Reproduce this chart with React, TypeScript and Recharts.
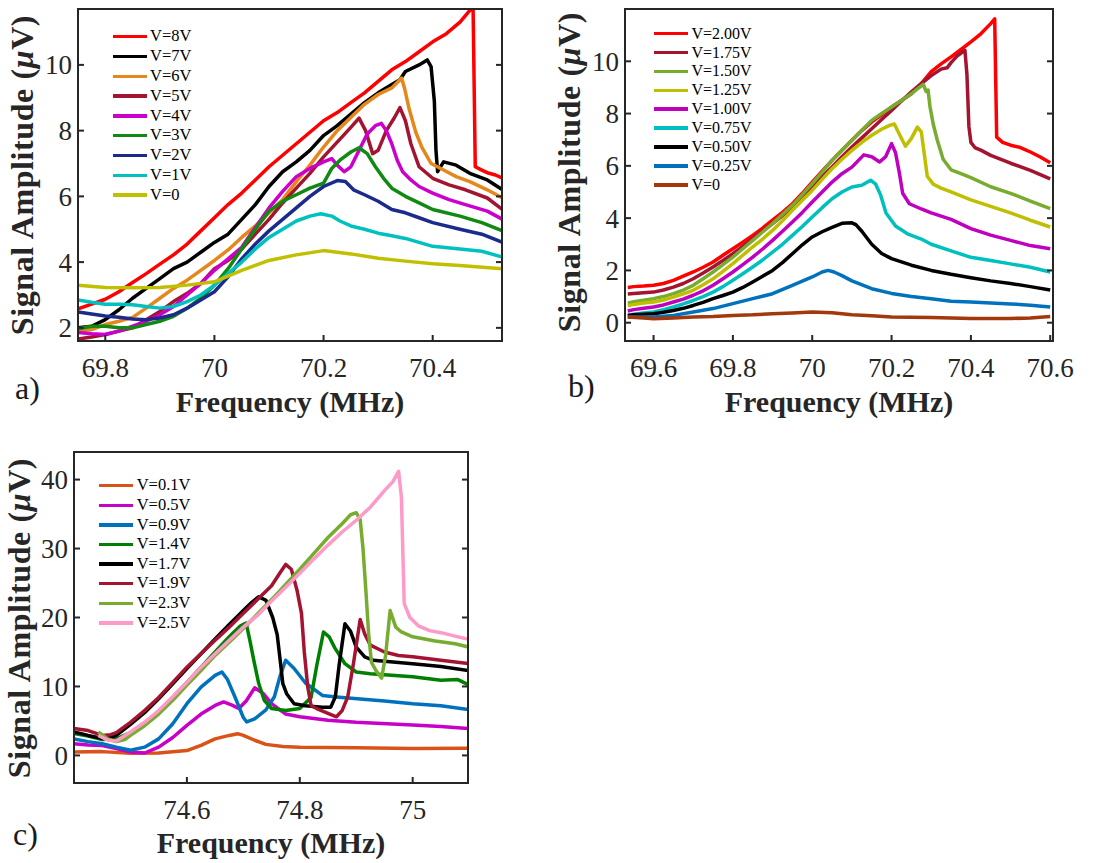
import { LineChart, Line, XAxis, YAxis, Legend, ReferenceArea } from "recharts";

// ──────────────────────────────────────────────
// Data (frequency MHz, amplitude µV)
// ──────────────────────────────────────────────

type Pt = [number, number];

// ── panel a ──
const a8V: Pt[] = [[69.75,2.58],[69.775,2.72],[69.8,2.87],[69.825,3.1],[69.85,3.38],[69.875,3.65],[69.9,3.94],[69.925,4.22],[69.95,4.55],[69.975,4.95],[70,5.35],[70.025,5.75],[70.05,6.1],[70.075,6.5],[70.1,6.9],[70.125,7.25],[70.15,7.6],[70.175,7.95],[70.2,8.3],[70.225,8.55],[70.25,8.85],[70.275,9.15],[70.3,9.5],[70.325,9.85],[70.35,10.1],[70.375,10.4],[70.4,10.7],[70.425,10.95],[70.45,11.3],[70.465,11.6],[70.474,11.75],[70.478,6.9],[70.49,6.8],[70.5,6.72],[70.515,6.65],[70.528,6.55]];
const a7V: Pt[] = [[69.75,2.0],[69.775,2.05],[69.8,2.25],[69.825,2.55],[69.85,2.9],[69.875,3.2],[69.9,3.5],[69.925,3.8],[69.95,4.0],[69.975,4.3],[70,4.6],[70.025,4.85],[70.05,5.3],[70.075,5.75],[70.1,6.3],[70.125,6.75],[70.15,7.05],[70.175,7.4],[70.2,7.85],[70.225,8.15],[70.25,8.5],[70.275,8.85],[70.3,9.15],[70.325,9.4],[70.34,9.55],[70.35,9.8],[70.375,10.0],[70.39,10.15],[70.397,9.95],[70.403,8.9],[70.406,7.4],[70.409,6.75],[70.42,7.05],[70.443,6.95],[70.468,6.7],[70.5,6.5],[70.528,6.2]];
const a6V: Pt[] = [[69.75,1.9],[69.775,1.95],[69.8,2.1],[69.825,2.2],[69.85,2.32],[69.875,2.6],[69.9,2.9],[69.925,3.2],[69.95,3.45],[69.975,3.75],[70,4.05],[70.025,4.37],[70.05,4.75],[70.075,5.1],[70.1,5.5],[70.125,5.9],[70.15,6.45],[70.175,6.95],[70.2,7.5],[70.225,8.0],[70.25,8.4],[70.275,8.8],[70.3,9.1],[70.325,9.3],[70.343,9.6],[70.349,9.25],[70.357,8.65],[70.369,7.95],[70.38,7.5],[70.397,7.0],[70.42,6.8],[70.443,6.6],[70.468,6.45],[70.5,6.2],[70.528,5.95]];
const a5V: Pt[] = [[69.75,1.66],[69.775,1.72],[69.8,1.8],[69.825,1.9],[69.85,2.0],[69.875,2.25],[69.9,2.5],[69.925,2.8],[69.95,3.05],[69.975,3.35],[70,3.8],[70.025,4.05],[70.05,4.4],[70.075,4.85],[70.1,5.3],[70.125,5.8],[70.15,6.25],[70.175,6.7],[70.2,7.2],[70.225,7.65],[70.25,8.1],[70.265,8.38],[70.277,8.0],[70.29,7.3],[70.3,7.4],[70.315,8.0],[70.33,8.4],[70.34,8.7],[70.35,8.3],[70.36,7.6],[70.375,6.9],[70.4,6.55],[70.43,6.35],[70.46,6.2],[70.5,5.95],[70.528,5.6]];
const a4V: Pt[] = [[69.75,1.86],[69.775,1.82],[69.8,1.8],[69.825,1.9],[69.85,2.05],[69.875,2.2],[69.9,2.4],[69.925,2.65],[69.95,3.0],[69.975,3.35],[70,3.75],[70.025,4.1],[70.05,4.45],[70.075,5.05],[70.1,5.65],[70.125,6.15],[70.15,6.6],[70.175,6.85],[70.2,7.05],[70.215,7.15],[70.225,6.95],[70.238,6.75],[70.25,6.9],[70.265,7.4],[70.28,7.9],[70.295,8.15],[70.306,8.22],[70.315,8.0],[70.325,7.6],[70.335,7.1],[70.345,6.75],[70.36,6.5],[70.375,6.3],[70.4,6.1],[70.43,5.9],[70.46,5.75],[70.5,5.55],[70.528,5.3]];
const a3V: Pt[] = [[69.75,1.97],[69.775,2.05],[69.8,2.05],[69.825,2.0],[69.85,2.0],[69.875,2.1],[69.9,2.2],[69.925,2.35],[69.95,2.6],[69.975,2.9],[70,3.3],[70.025,3.8],[70.05,4.4],[70.075,5.0],[70.1,5.55],[70.125,5.85],[70.15,6.05],[70.175,6.25],[70.2,6.4],[70.215,6.85],[70.23,7.1],[70.25,7.35],[70.265,7.48],[70.28,7.3],[70.295,6.9],[70.31,6.55],[70.325,6.25],[70.35,6.0],[70.375,5.8],[70.4,5.6],[70.45,5.4],[70.49,5.2],[70.528,4.95]];
const a2V: Pt[] = [[69.75,2.48],[69.775,2.42],[69.8,2.36],[69.825,2.32],[69.85,2.27],[69.875,2.25],[69.9,2.3],[69.925,2.4],[69.95,2.6],[69.975,2.85],[70,3.1],[70.025,3.55],[70.05,4.1],[70.075,4.55],[70.1,4.95],[70.125,5.3],[70.15,5.65],[70.175,6.0],[70.2,6.3],[70.225,6.48],[70.24,6.45],[70.255,6.2],[70.275,6.05],[70.3,5.85],[70.325,5.6],[70.35,5.5],[70.375,5.35],[70.4,5.2],[70.45,5.0],[70.49,4.85],[70.528,4.6]];
const a1V: Pt[] = [[69.75,2.85],[69.775,2.78],[69.8,2.72],[69.825,2.72],[69.85,2.7],[69.875,2.65],[69.9,2.6],[69.925,2.65],[69.95,2.8],[69.975,3.0],[70,3.3],[70.025,3.65],[70.05,4.0],[70.075,4.4],[70.1,4.75],[70.125,5.0],[70.15,5.25],[70.175,5.4],[70.195,5.47],[70.215,5.4],[70.23,5.25],[70.25,5.1],[70.275,5.0],[70.3,4.88],[70.325,4.8],[70.35,4.72],[70.375,4.6],[70.4,4.48],[70.45,4.4],[70.49,4.33],[70.528,4.15]];
const a0V: Pt[] = [[69.75,3.3],[69.8,3.23],[69.85,3.22],[69.9,3.23],[69.95,3.3],[70,3.4],[70.05,3.75],[70.1,4.05],[70.15,4.22],[70.2,4.35],[70.25,4.25],[70.3,4.12],[70.35,4.03],[70.4,3.95],[70.45,3.9],[70.528,3.8]];

// ── panel b ──
const b200: Pt[] = [[69.535,1.35],[69.55,1.38],[69.575,1.4],[69.6,1.43],[69.625,1.5],[69.65,1.62],[69.675,1.78],[69.7,1.94],[69.725,2.12],[69.75,2.32],[69.775,2.58],[69.8,2.83],[69.825,3.08],[69.85,3.34],[69.875,3.62],[69.9,3.92],[69.925,4.22],[69.95,4.55],[69.975,4.95],[70,5.38],[70.025,5.8],[70.05,6.21],[70.075,6.6],[70.1,6.98],[70.125,7.35],[70.15,7.68],[70.175,7.95],[70.2,8.25],[70.225,8.5],[70.25,8.76],[70.275,9.15],[70.3,9.6],[70.325,9.9],[70.35,10.17],[70.375,10.45],[70.4,10.74],[70.425,11.05],[70.45,11.44],[70.46,11.62],[70.465,7.1],[70.48,6.9],[70.5,6.79],[70.525,6.7],[70.55,6.53],[70.575,6.34],[70.6,6.12]];
const b175: Pt[] = [[69.535,1.1],[69.55,1.12],[69.575,1.15],[69.6,1.17],[69.625,1.25],[69.65,1.36],[69.675,1.5],[69.7,1.68],[69.725,1.9],[69.75,2.13],[69.775,2.38],[69.8,2.64],[69.825,2.92],[69.85,3.21],[69.875,3.5],[69.9,3.79],[69.925,4.1],[69.95,4.43],[69.975,4.8],[70,5.19],[70.025,5.58],[70.05,5.96],[70.075,6.35],[70.1,6.72],[70.125,7.07],[70.15,7.42],[70.175,7.77],[70.2,8.12],[70.225,8.48],[70.25,8.83],[70.275,9.15],[70.3,9.45],[70.325,9.7],[70.34,9.75],[70.35,9.95],[70.365,10.2],[70.385,10.42],[70.39,9.5],[70.395,7.5],[70.4,6.9],[70.41,6.7],[70.425,6.6],[70.45,6.4],[70.5,6.1],[70.55,5.83],[70.6,5.5]];
const b150: Pt[] = [[69.535,0.75],[69.55,0.8],[69.575,0.86],[69.6,0.92],[69.625,1.0],[69.65,1.11],[69.675,1.25],[69.7,1.43],[69.725,1.68],[69.75,1.94],[69.775,2.22],[69.8,2.51],[69.825,2.83],[69.85,3.15],[69.875,3.47],[69.9,3.79],[69.925,4.14],[69.95,4.49],[69.975,4.9],[70,5.32],[70.025,5.76],[70.05,6.21],[70.075,6.6],[70.1,6.98],[70.125,7.36],[70.15,7.74],[70.175,8.0],[70.2,8.25],[70.225,8.5],[70.25,8.76],[70.27,9.0],[70.28,9.12],[70.287,8.85],[70.292,8.9],[70.297,8.25],[70.305,7.6],[70.315,7.0],[70.33,6.25],[70.35,5.85],[70.375,5.7],[70.4,5.55],[70.45,5.2],[70.5,4.95],[70.55,4.65],[70.6,4.36]];
const b125: Pt[] = [[69.535,0.65],[69.55,0.7],[69.575,0.75],[69.6,0.79],[69.625,0.87],[69.65,0.98],[69.675,1.1],[69.7,1.24],[69.725,1.45],[69.75,1.68],[69.775,1.96],[69.8,2.26],[69.825,2.58],[69.85,2.9],[69.875,3.2],[69.9,3.53],[69.925,3.9],[69.95,4.3],[69.975,4.68],[70,5.06],[70.025,5.48],[70.05,5.89],[70.075,6.25],[70.1,6.59],[70.125,6.9],[70.15,7.17],[70.175,7.4],[70.195,7.55],[70.207,7.6],[70.22,7.2],[70.235,6.75],[70.25,7.05],[70.265,7.48],[70.275,7.3],[70.283,6.4],[70.29,5.6],[70.305,5.3],[70.325,5.15],[70.35,5.0],[70.4,4.7],[70.45,4.45],[70.5,4.2],[70.55,3.92],[70.6,3.66]];
const b100: Pt[] = [[69.535,0.45],[69.55,0.5],[69.575,0.55],[69.6,0.6],[69.625,0.68],[69.65,0.79],[69.675,0.9],[69.7,1.05],[69.725,1.22],[69.75,1.43],[69.775,1.68],[69.8,1.94],[69.825,2.22],[69.85,2.51],[69.875,2.82],[69.9,3.15],[69.925,3.5],[69.95,3.85],[69.975,4.22],[70,4.62],[70.025,5.0],[70.05,5.38],[70.075,5.7],[70.1,5.95],[70.13,6.42],[70.15,6.35],[70.17,6.15],[70.185,6.35],[70.2,6.85],[70.21,6.5],[70.22,5.7],[70.228,4.95],[70.245,4.55],[70.275,4.35],[70.3,4.2],[70.35,3.95],[70.4,3.6],[70.45,3.35],[70.5,3.15],[70.55,2.95],[70.6,2.83]];
const b075: Pt[] = [[69.535,0.28],[69.55,0.32],[69.575,0.37],[69.6,0.41],[69.625,0.5],[69.65,0.6],[69.675,0.72],[69.7,0.85],[69.725,1.0],[69.75,1.17],[69.775,1.38],[69.8,1.62],[69.825,1.87],[69.85,2.13],[69.875,2.4],[69.9,2.7],[69.925,3.0],[69.95,3.34],[69.975,3.68],[70,4.04],[70.025,4.4],[70.05,4.74],[70.075,5.0],[70.1,5.19],[70.125,5.26],[70.147,5.45],[70.16,5.3],[70.172,4.9],[70.186,4.2],[70.21,3.7],[70.24,3.4],[70.275,3.2],[70.3,3.0],[70.35,2.75],[70.4,2.5],[70.45,2.38],[70.5,2.25],[70.55,2.12],[70.6,1.94]];
const b050: Pt[] = [[69.535,0.28],[69.55,0.3],[69.575,0.32],[69.6,0.34],[69.625,0.4],[69.65,0.47],[69.675,0.55],[69.7,0.66],[69.725,0.78],[69.75,0.92],[69.775,1.04],[69.8,1.17],[69.825,1.35],[69.85,1.56],[69.875,1.78],[69.9,2.0],[69.925,2.3],[69.95,2.64],[69.975,2.98],[70,3.28],[70.025,3.48],[70.05,3.65],[70.075,3.8],[70.1,3.82],[70.11,3.75],[70.125,3.5],[70.15,3.0],[70.175,2.65],[70.2,2.45],[70.25,2.2],[70.3,2.0],[70.35,1.85],[70.4,1.72],[70.45,1.6],[70.5,1.5],[70.55,1.38],[70.6,1.25]];
const b025: Pt[] = [[69.535,0.22],[69.6,0.22],[69.65,0.28],[69.7,0.41],[69.75,0.54],[69.8,0.73],[69.85,0.92],[69.9,1.11],[69.95,1.43],[70,1.75],[70.025,1.94],[70.04,2.0],[70.055,1.94],[70.075,1.8],[70.1,1.6],[70.15,1.3],[70.2,1.12],[70.25,1.0],[70.3,0.92],[70.35,0.82],[70.4,0.79],[70.45,0.75],[70.5,0.72],[70.55,0.67],[70.6,0.6]];
const b000: Pt[] = [[69.535,0.22],[69.575,0.18],[69.6,0.15],[69.65,0.18],[69.7,0.22],[69.75,0.24],[69.8,0.28],[69.85,0.3],[69.9,0.34],[69.95,0.37],[70,0.41],[70.05,0.38],[70.1,0.3],[70.15,0.27],[70.2,0.22],[70.3,0.2],[70.4,0.16],[70.5,0.16],[70.55,0.18],[70.6,0.24]];

// ── panel c ──
const c01: Pt[] = [[74.4,0.5],[74.45,0.55],[74.5,0.3],[74.55,0.35],[74.6,0.7],[74.625,1.45],[74.65,2.4],[74.675,2.9],[74.69,3.15],[74.7,2.9],[74.72,2.2],[74.74,1.6],[74.77,1.3],[74.8,1.2],[74.9,1.1],[75,1.0],[75.1,1.05]];
const c05: Pt[] = [[74.4,1.7],[74.425,1.5],[74.45,1.45],[74.475,1.0],[74.5,0.5],[74.525,0.35],[74.55,1.2],[74.575,2.6],[74.6,4.35],[74.625,6.0],[74.65,7.25],[74.665,7.75],[74.68,7.3],[74.692,6.8],[74.705,7.9],[74.72,9.8],[74.735,9.0],[74.75,7.5],[74.775,6.0],[74.8,5.6],[74.85,5.1],[74.9,4.8],[75,4.4],[75.05,4.2],[75.1,3.9]];
const c09: Pt[] = [[74.4,2.4],[74.425,2.0],[74.45,1.7],[74.475,1.2],[74.5,0.75],[74.525,1.2],[74.55,2.4],[74.575,4.6],[74.6,7.5],[74.625,9.9],[74.65,11.6],[74.662,12.1],[74.672,11.0],[74.685,8.5],[74.7,5.5],[74.706,4.85],[74.72,5.3],[74.74,6.6],[74.755,8.5],[74.765,11.5],[74.775,13.8],[74.79,12.6],[74.81,10.5],[74.84,8.7],[74.87,8.45],[74.95,7.9],[75,7.5],[75.05,7.2],[75.1,6.65]];
const c14: Pt[] = [[74.4,3.2],[74.425,2.8],[74.45,2.3],[74.475,2.4],[74.5,3.3],[74.525,4.6],[74.55,6.3],[74.575,8.4],[74.6,10.6],[74.625,12.8],[74.65,15.0],[74.675,17.2],[74.695,18.8],[74.705,19.2],[74.712,16.5],[74.718,14.0],[74.727,10.5],[74.737,8.0],[74.75,6.8],[74.775,6.5],[74.8,6.8],[74.82,8.4],[74.83,13.0],[74.842,17.9],[74.852,17.2],[74.862,15.6],[74.88,13.3],[74.9,12.1],[74.925,11.85],[75,11.4],[75.05,10.9],[75.08,11.0],[75.1,10.2]];
const c17: Pt[] = [[74.4,3.4],[74.425,2.9],[74.45,2.45],[74.465,2.6],[74.475,2.9],[74.5,4.5],[74.525,6.2],[74.55,8.2],[74.575,10.4],[74.6,12.6],[74.625,14.75],[74.65,16.9],[74.675,19.0],[74.7,21.0],[74.715,22.2],[74.727,23.0],[74.74,22.5],[74.752,20.0],[74.76,17.5],[74.765,14.0],[74.77,10.4],[74.777,8.9],[74.79,7.5],[74.81,7.2],[74.84,7.0],[74.855,7.0],[74.863,8.5],[74.87,13.3],[74.88,19.1],[74.89,18.0],[74.9,15.7],[74.915,14.3],[74.93,13.8],[75,13.3],[75.05,12.9],[75.1,12.3]];
const c19: Pt[] = [[74.4,3.9],[74.425,3.6],[74.45,2.9],[74.465,3.0],[74.475,3.3],[74.5,4.8],[74.525,6.5],[74.55,8.4],[74.575,10.6],[74.6,12.8],[74.625,14.75],[74.65,16.7],[74.675,18.6],[74.7,20.6],[74.725,22.6],[74.75,24.6],[74.765,26.5],[74.775,27.7],[74.785,27.0],[74.795,24.0],[74.803,20.6],[74.808,15.0],[74.814,10.0],[74.82,7.2],[74.83,6.8],[74.85,6.1],[74.865,5.6],[74.875,6.5],[74.885,8.5],[74.895,13.3],[74.907,19.7],[74.915,17.6],[74.925,16.0],[74.95,15.0],[74.975,14.5],[75,14.3],[75.05,13.8],[75.1,13.3]];
const c23: Pt[] = [[74.443,3.4],[74.46,2.4],[74.475,2.0],[74.49,2.3],[74.5,2.9],[74.525,4.3],[74.55,6.0],[74.575,8.0],[74.6,10.2],[74.625,12.3],[74.65,14.5],[74.675,16.4],[74.7,18.4],[74.725,20.5],[74.75,22.6],[74.775,24.8],[74.8,27.0],[74.825,29.3],[74.85,31.6],[74.875,33.6],[74.89,34.9],[74.9,35.2],[74.907,34.2],[74.912,30.0],[74.917,24.0],[74.922,17.6],[74.927,13.5],[74.935,12.3],[74.945,11.2],[74.952,14.5],[74.96,21.0],[74.97,18.6],[74.98,17.9],[75,17.2],[75.04,16.6],[75.075,16.2],[75.1,15.7]];
const c25: Pt[] = [[74.443,2.9],[74.46,2.2],[74.475,2.1],[74.5,3.4],[74.525,4.8],[74.55,6.5],[74.575,8.5],[74.6,10.6],[74.625,12.8],[74.65,14.75],[74.675,16.7],[74.7,18.6],[74.725,20.3],[74.75,22.4],[74.775,24.4],[74.8,26.4],[74.825,28.5],[74.85,30.5],[74.875,32.4],[74.9,34.1],[74.925,36.0],[74.95,38.4],[74.965,39.7],[74.975,41.2],[74.98,37.5],[74.985,22.0],[74.995,20.0],[75.01,18.8],[75.03,18.1],[75.05,17.8],[75.075,17.3],[75.1,16.8]];

// ── axes ──
const ticksAX = [69.8, 70, 70.2, 70.4];
const ticksAY = [2, 4, 6, 8, 10];
const ticksBX = [69.6, 69.8, 70, 70.2, 70.4, 70.6];
const ticksBY = [0, 2, 4, 6, 8, 10];
const ticksCX = [74.6, 74.8, 75];
const ticksCY = [0, 10, 20, 30, 40];

// ──────────────────────────────────────────────
// Styling
// ──────────────────────────────────────────────

const FONT = '"Liberation Serif", "Times New Roman", Times, serif';
const AXIS = "#262626";
const TICK_LEN = 6;
const TICK_FONT = 27;

type Series = { name: string; color: string; pts: Pt[] };

const seriesA: Series[] = [
  { name: "V=8V", color: "#ff0000", pts: a8V },
  { name: "V=7V", color: "#000000", pts: a7V },
  { name: "V=6V", color: "#e6871c", pts: a6V },
  { name: "V=5V", color: "#a2142f", pts: a5V },
  { name: "V=4V", color: "#cc00cc", pts: a4V },
  { name: "V=3V", color: "#108a10", pts: a3V },
  { name: "V=2V", color: "#1c2a8c", pts: a2V },
  { name: "V=1V", color: "#00c0c0", pts: a1V },
  { name: "V=0", color: "#c0c000", pts: a0V },
];

const seriesB: Series[] = [
  { name: "V=2.00V", color: "#ff0000", pts: b200 },
  { name: "V=1.75V", color: "#a2142f", pts: b175 },
  { name: "V=1.50V", color: "#77ac30", pts: b150 },
  { name: "V=1.25V", color: "#bfbf00", pts: b125 },
  { name: "V=1.00V", color: "#bf00bf", pts: b100 },
  { name: "V=0.75V", color: "#00bfbf", pts: b075 },
  { name: "V=0.50V", color: "#000000", pts: b050 },
  { name: "V=0.25V", color: "#0072bd", pts: b025 },
  { name: "V=0", color: "#a2380c", pts: b000 },
];

const seriesC: Series[] = [
  { name: "V=0.1V", color: "#d95319", pts: c01 },
  { name: "V=0.5V", color: "#c800c8", pts: c05 },
  { name: "V=0.9V", color: "#0072bd", pts: c09 },
  { name: "V=1.4V", color: "#008000", pts: c14 },
  { name: "V=1.7V", color: "#000000", pts: c17 },
  { name: "V=1.9V", color: "#a2142f", pts: c19 },
  { name: "V=2.3V", color: "#77ac30", pts: c23 },
  { name: "V=2.5V", color: "#ff99c8", pts: c25 },
];

const fmt = (v: number) => String(v);

// ── inward MATLAB-style ticks ──
function BottomTick({ x, y, payload }: any) {
  return (
    <g>
      <line x1={x} y1={y} x2={x} y2={y - TICK_LEN} stroke={AXIS} strokeWidth={2} />
      <text x={x} y={y + 36} textAnchor="middle" fontSize={TICK_FONT} fontFamily={FONT} fill={AXIS}>
        {fmt(payload.value)}
      </text>
    </g>
  );
}

function TopTick({ x, y }: any) {
  return <line x1={x} y1={y} x2={x} y2={y + TICK_LEN} stroke={AXIS} strokeWidth={2} />;
}

function LeftTick({ x, y, payload }: any) {
  return (
    <g>
      <line x1={x} y1={y} x2={x + TICK_LEN} y2={y} stroke={AXIS} strokeWidth={2} />
      <text x={x - 6} y={y + 9.5} textAnchor="end" fontSize={TICK_FONT} fontFamily={FONT} fill={AXIS}>
        {fmt(payload.value)}
      </text>
    </g>
  );
}

function RightTick({ x, y }: any) {
  return <line x1={x} y1={y} x2={x - TICK_LEN} y2={y} stroke={AXIS} strokeWidth={2} />;
}

type LegendSpec = {
  left: number;
  top: number;
  rowH: number;
  lineW: number;
  gap: number;
  fontSize: number;
};

function LegendBox({ items, spec }: { items: Series[]; spec: LegendSpec }) {
  return (
    <div style={{ fontFamily: FONT, fontSize: spec.fontSize, color: "#000" }}>
      {items.map((s) => (
        <div key={s.name} style={{ display: "flex", alignItems: "center", height: spec.rowH, whiteSpace: "nowrap" }}>
          <span style={{ display: "inline-block", width: spec.lineW, height: 3.5, background: s.color, marginRight: spec.gap }} />
          <span style={{ lineHeight: 1, fontFamily: FONT, fontSize: spec.fontSize }}>{s.name}</span>
        </div>
      ))}
    </div>
  );
}

type PanelProps = {
  left: number;
  top: number;
  width: number;
  height: number;
  margin: { top: number; right: number; bottom: number; left: number };
  xDomain: [number, number];
  yDomain: [number, number];
  xTicks: number[];
  yTicks: number[];
  series: Series[];
  legend: LegendSpec;
};

function Panel(p: PanelProps) {
  return (
    <div style={{ position: "absolute", left: p.left, top: p.top, width: p.width, height: p.height }}>
      <LineChart width={p.width} height={p.height} margin={p.margin}>
        <XAxis
          dataKey="x"
          type="number"
          domain={p.xDomain}
          ticks={p.xTicks}
          allowDataOverflow
          interval={0}
          height={60}
          tickSize={0}
          tickMargin={0}
          tickLine={false}
          axisLine={{ stroke: AXIS, strokeWidth: 2 }}
          tick={<BottomTick />}
        />
        <XAxis
          xAxisId="top"
          orientation="top"
          type="number"
          domain={p.xDomain}
          ticks={p.xTicks}
          allowDataOverflow
          interval={0}
          height={1}
          tickSize={0}
          tickMargin={0}
          tickLine={false}
          axisLine={{ stroke: AXIS, strokeWidth: 2 }}
          tick={<TopTick />}
        />
        <YAxis
          type="number"
          domain={p.yDomain}
          ticks={p.yTicks}
          allowDataOverflow
          interval={0}
          width={60}
          tickSize={0}
          tickMargin={0}
          tickLine={false}
          axisLine={{ stroke: AXIS, strokeWidth: 2 }}
          tick={<LeftTick />}
        />
        <YAxis
          yAxisId="right"
          orientation="right"
          type="number"
          domain={p.yDomain}
          ticks={p.yTicks}
          allowDataOverflow
          interval={0}
          width={1}
          tickSize={0}
          tickMargin={0}
          tickLine={false}
          axisLine={{ stroke: AXIS, strokeWidth: 2 }}
          tick={<RightTick />}
        />
        <ReferenceArea
          x1={p.xDomain[0]}
          x2={p.xDomain[1]}
          y1={p.yDomain[0]}
          y2={p.yDomain[1]}
          fill="none"
          stroke={AXIS}
          strokeWidth={2}
          ifOverflow="visible"
        />
        <Legend
          layout="vertical"
          align="center"
          verticalAlign="middle"
          wrapperStyle={{ left: p.legend.left, top: p.legend.top, width: "auto", fontSize: p.legend.fontSize }}
          content={() => <LegendBox items={p.series} spec={p.legend} />}
        />
        {p.series.map((s) => (
          <Line
            key={s.name}
            name={s.name}
            data={s.pts.map(([x, y]) => ({ x, y }))}
            dataKey="y"
            type="linear"
            stroke={s.color}
            strokeWidth={3.5}
            strokeLinejoin="round"
            dot={false}
            activeDot={false}
            isAnimationActive={false}
          />
        ))}
      </LineChart>
    </div>
  );
}

const xTitleStyle = { fontFamily: FONT, fontWeight: 700, fontSize: 30, fill: "#262626" } as const;
const yTitleStyle = { fontFamily: FONT, fontWeight: 700, fontSize: 32, fill: "#262626", letterSpacing: 0.6 } as const;
const letterStyle = { fontFamily: FONT, fontSize: 32, fill: "#1a1a1a" } as const;

function YTitle({ x, y }: { x: number; y: number }) {
  return (
    <text transform={`translate(${x},${y}) rotate(-90)`} textAnchor="middle" {...yTitleStyle}>
      Signal Amplitude (<tspan fontStyle="italic">μ</tspan>V)
    </text>
  );
}

export default function App() {
  return (
    <div style={{ position: "absolute", left: 0, top: 0, width: 1109, height: 863, background: "#fff" }}>
      <Panel
        left={0}
        top={0}
        width={530}
        height={430}
        margin={{ top: 8, right: 27, bottom: 29, left: 18 }}
        xDomain={[69.75, 70.527]}
        yDomain={[1.6, 11.7]}
        xTicks={ticksAX}
        yTicks={ticksAY}
        series={seriesA}
        legend={{ left: 113, top: 26.8, rowH: 19.8, lineW: 34, gap: 3, fontSize: 16.5 }}
      />
      <Panel
        left={540}
        top={0}
        width={569}
        height={430}
        margin={{ top: 8, right: 55, bottom: 29, left: 25 }}
        xDomain={[69.528, 70.607]}
        yDomain={[-0.7, 12]}
        xTicks={ticksBX}
        yTicks={ticksBY}
        series={seriesB}
        legend={{ left: 114, top: 24.2, rowH: 18.9, lineW: 34, gap: 3.5, fontSize: 16 }}
      />
      <Panel
        left={0}
        top={430}
        width={530}
        height={433}
        margin={{ top: 21, right: 61, bottom: 20, left: 14 }}
        xDomain={[74.4, 75.098]}
        yDomain={[-4, 44]}
        xTicks={ticksCX}
        yTicks={ticksCY}
        series={seriesC}
        legend={{ left: 99.3, top: 45.9, rowH: 19.6, lineW: 34, gap: 3.4, fontSize: 16.5 }}
      />
      <svg width={1109} height={863} style={{ position: "absolute", left: 0, top: 0, pointerEvents: "none" }}>
        <text x={290} y={412} textAnchor="middle" {...xTitleStyle}>Frequency (MHz)</text>
        <text x={839} y={412} textAnchor="middle" {...xTitleStyle}>Frequency (MHz)</text>
        <text x={271} y={853} textAnchor="middle" {...xTitleStyle}>Frequency (MHz)</text>
        <YTitle x={33} y={175} />
        <YTitle x={580} y={172} />
        <YTitle x={30} y={618} />
        <text x={15} y={399} {...letterStyle}>a)</text>
        <text x={568} y={397} {...letterStyle}>b)</text>
        <text x={13} y={845} {...letterStyle}>c)</text>
      </svg>
    </div>
  );
}
